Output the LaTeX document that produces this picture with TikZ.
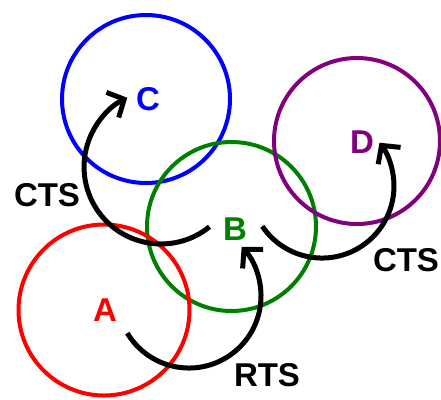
\documentclass[tikz,border=0pt]{standalone}
\usepackage{fontspec}
\setmainfont{Liberation Sans}
\usetikzlibrary{arrows.meta}
\definecolor{cblue}{RGB}{0,0,255}
\definecolor{cred}{RGB}{255,0,0}
\definecolor{cgreen}{RGB}{0,128,0}
\definecolor{cpurple}{RGB}{128,0,128}
\tikzset{
  ring/.style={circle, draw=#1, line width=4pt, minimum size=168pt, inner sep=0pt},
  lab/.style={text=#1, inner sep=0pt, font=\fontsize{33}{33}\selectfont\bfseries},
  msg/.style={line width=5pt, draw=black, -{Straight Barb[length=13pt,width=28pt]}},
}
\begin{document}
\begin{tikzpicture}[x=1pt,y=-1pt]
\useasboundingbox (0,0) rectangle (441,399);
\fill[white] (0,0) rectangle (441,399);
% circles
\node[ring=cblue, minimum size=168pt] (cC) at (146,99) {};
\node[ring=cgreen, minimum size=169pt] (cB) at (231.5,226.5) {};
\node[ring=cpurple, minimum size=166pt] (cD) at (357,141) {};
\node[ring=cred, minimum size=171pt] (cA) at (104,310) {};
% labels
\node[lab=cblue] (C) at (148,99) {C};
\node[lab=cgreen] (B) at (235,229) {B};
\node[lab=cpurple] (D) at (362,142) {D};
\node[lab=cred] (A) at (105,310) {A};
\node[lab=black] (cts1) at (47,195) {CTS};
\node[lab=black] (cts2) at (406,260) {CTS};
\node[lab=black] (rts) at (267,375) {RTS};
% arrows
\coordinate (s1) at (209.5,226.8);
\coordinate (s2) at (262.3,226.3);
\coordinate (s3) at (127.3,333.1);
\draw[msg] (s1) arc[start angle=51, end angle=244, radius=77];
\draw[msg] (s2) arc[start angle=146, end angle=-37, radius=72];
\draw[msg] (s3) arc[start angle=149, end angle=-43, radius=72];
\end{tikzpicture}
\end{document}
